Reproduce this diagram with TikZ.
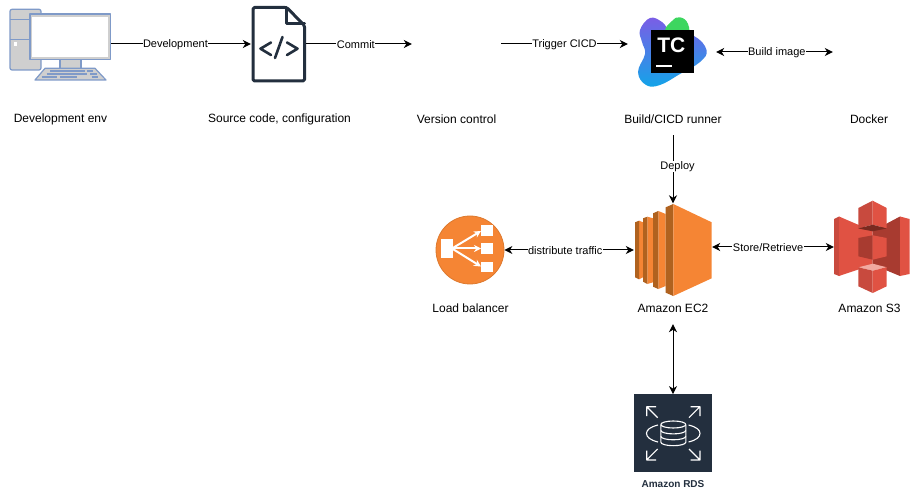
\documentclass[tikz,border=0pt]{standalone}
\usepackage{fontspec}
\setmainfont{Liberation Sans}
\usetikzlibrary{arrows.meta}
\definecolor{pcblue}{HTML}{7F9AC8}
\definecolor{pcgray}{HTML}{CFCFCF}
\definecolor{docnavy}{HTML}{232F3E}
\definecolor{awsorange}{HTML}{F58534}
\definecolor{awsbrown}{HTML}{B0621F}
\definecolor{s3light}{HTML}{E05243}
\definecolor{s3mid}{HTML}{C84A3E}
\definecolor{s3dark}{HTML}{A83B30}
\definecolor{s3band}{HTML}{7A2A20}
\definecolor{s3pink}{HTML}{F2A9A0}
\definecolor{tcblue}{HTML}{12A5E8}
\definecolor{tcpurple}{HTML}{7C5CE6}
\definecolor{tcgreen}{HTML}{3DD65F}

\begin{document}
\begin{tikzpicture}
                        [
                            x=1pt, y=-1pt,
                            icon/.style = {shape=rectangle, inner sep=0pt},
                            caption/.style = {shape=rectangle, inner sep=0pt, minimum height=32pt, yshift=-1pt, font=\fontsize{12}{14}\selectfont},
                            link/.style = {line width=1pt, -{Stealth[length=8pt,width=8pt,inset=2.5pt]}},
                            linkboth/.style = {line width=1pt, {Stealth[length=8pt,width=8pt,inset=2.5pt]}-{Stealth[length=8pt,width=8pt,inset=2.5pt]}},
                            flow/.style = {fill=white, inner sep=0.5pt, yshift=-1pt, font=\fontsize{11}{13}\selectfont},
                            pcline/.style = {draw=pcblue, line width=1.2pt, fill=pcgray, line join=round},
                            keyline/.style = {draw=pcblue, line width=1.2pt},
                            docline/.style = {draw=docnavy, line width=3pt, line join=round, line cap=round},
                            rdsline/.style = {draw=white, line width=1.1pt, line join=round},
                            lbarrow/.style = {white, line width=2pt, -{Stealth[length=7pt,width=7pt]}},
                        ]

                        \useasboundingbox (0,0) rectangle (915,494);

                        % icons
                        \node[icon, minimum width=101pt, minimum height=70pt] (pcicon) at (60.5,44) {};
                        \node[icon, minimum width=55pt, minimum height=76pt] (docicon) at (278.5,44) {};
                        \node[icon, minimum width=89pt, minimum height=70pt] (vcicon) at (456.5,44) {};
                        \node[icon, minimum width=88pt, minimum height=70pt] (tcicon) at (672,48) {};
                        \node[icon, minimum width=90pt, minimum height=60pt] (dockericon) at (878,52) {};
                        \node[icon, shape=circle, minimum size=68pt, fill=awsorange, draw=awsbrown!35!awsorange, line width=0.8pt] (lbicon) at (470,250) {};
                        \node[icon, minimum width=78pt, minimum height=93pt] (ec2icon) at (673,250) {};
                        \node[icon, minimum width=76pt, minimum height=93pt] (s3icon) at (872,247) {};
                        \node[icon, minimum width=78pt, minimum height=78pt, fill=docnavy] (rdsicon) at (673.3,433.3) {};

                        % captions
                        \node[caption] (pclabel) at (60.5,118) {Development env};
                        \node[caption] (doclabel) at (279.5,118) {Source code, configuration};
                        \node[caption] (vclabel) at (456.5,118) {Version control};
                        \node[caption] (tclabel) at (673,118) {Build/CICD runner};
                        \node[caption] (dockerlabel) at (869,118) {Docker};
                        \node[caption] (lblabel) at (470.5,307) {Load balancer};
                        \node[caption] (ec2label) at (673,307) {Amazon EC2};
                        \node[caption] (s3label) at (869.5,307) {Amazon S3};
                        \node[inner sep=0pt, font=\fontsize{10}{12}\selectfont\bfseries, text=docnavy] (rdslabel) at (673,484) {Amazon RDS};

                        % computer
                        \draw[pcline, rounded corners=2pt] (10,9.3) rectangle (41,70);
                        \draw[keyline] (10,19.3) -- (30,19.3) (10,39.3) -- (30,39.3);
                        \fill[white] (13.5,42.5) rectangle (17,46);
                        \draw[pcline] (60,59.3) rectangle (81,68.3);
                        \draw[pcline] (35,80) -- (106,80) -- (95,68.3) -- (45,68.3) -- cycle;
                        \draw[keyline] (50,71) -- (85,71) (87,71) -- (93,71) (46.7,74) -- (86.7,74) (90,74) -- (96.7,74);
                        \draw[keyline] (41.7,77) -- (56.7,77) (60,77) -- (77,77) (91.7,77) -- (98,77);
                        \draw[pcline] (30,14) rectangle (110.7,59.3);
                        \fill[white] (32.3,16.7) rectangle (108.3,56.7);

                        % source file
                        \draw[docline, rounded corners=1.5pt] (286.7,7.5) -- (253,7.5) -- (253,81) -- (304.5,81) -- (304.5,25.5) -- cycle;
                        \draw[docline] (286.7,7.5) -- (286.7,24) -- (304.5,24);
                        \draw[docline, line width=2.6pt] (271,42.5) -- (260.5,48.7) -- (271,55);
                        \draw[docline, line width=2.6pt] (282.5,37) -- (275,58);
                        \draw[docline, line width=2.6pt] (287,42.5) -- (297.5,48.7) -- (287,55);

                        % runner logo
                        \shade[top color=tcpurple, middle color=tcblue, bottom color=tcblue] plot[smooth cycle, tension=0.7] coordinates {(640,30) (650,18) (662,22) (672,32) (694,36) (706.5,50) (700,62) (680,74) (660,85) (646,85) (638,72) (645,54) (642,42)};
                        \fill[tcgreen] plot[smooth cycle, tension=0.8] coordinates {(665,31) (672,21) (680,17.3) (688,24) (687,36) (672,40)};
                        \fill[black] (651,30) rectangle (694,73);
                        \node[inner sep=0pt, text=white, font=\fontsize{21}{21}\selectfont\bfseries] (tcmark) at (671.3,45.5) {TC};
                        \fill[white] (656,65) rectangle (671.7,67);

                        % load balancer
                        \fill[white] (441,239) rectangle (453.3,257.7);
                        \fill[white] (481,225) rectangle (492.7,235.7);
                        \fill[white] (481,243.3) rectangle (492.7,254);
                        \fill[white] (481,261.7) rectangle (492.7,272.3);
                        \draw[lbarrow] (452,248.5) -- (481,231);
                        \draw[lbarrow] (452,248.5) -- (481,248.5);
                        \draw[lbarrow] (452,248.5) -- (481,266.5);

                        % ec2
                        \fill[awsorange] (639,220.7) -- (643,222.3) -- (643,277.3) -- (639,279.3) -- cycle;
                        \fill[awsbrown] (635,222.3) -- (639,220.7) -- (639,279.3) -- (635,277.3) -- cycle;
                        \fill[awsorange] (647.3,216.7) -- (653,218.3) -- (653,282.3) -- (647.3,284) -- cycle;
                        \fill[awsbrown] (643,218.3) -- (647.3,216.7) -- (647.3,284) -- (643,281.7) -- cycle;
                        \fill[awsorange] (658.3,211) -- (665.7,214) -- (665.7,286) -- (658.3,289) -- cycle;
                        \fill[awsbrown] (653,213.3) -- (658.3,211) -- (658.3,289) -- (653,286.7) -- cycle;
                        \fill[awsbrown] (665.7,207.3) -- (673.3,204) -- (673.3,296) -- (665.7,292.7) -- cycle;
                        \fill[awsorange] (673.3,204) -- (711.7,222.3) -- (711.7,278.3) -- (673.3,296) -- cycle;

                        % s3
                        \fill[s3mid] (834,219) -- (839,216.5) -- (839,276) -- (834,274) -- cycle;
                        \fill[s3light] (839,216.5) -- (872.7,231) -- (872.7,264.7) -- (839,276) -- cycle;
                        \fill[s3dark] (872.7,231) -- (900,216.5) -- (900,276) -- (872.7,264.7) -- cycle;
                        \fill[s3light] (900,216.5) -- (909.5,219) -- (909.5,274) -- (900,276) -- cycle;
                        \fill[s3mid] (858.3,208) -- (872.7,200.7) -- (872.7,224.7) -- (858.3,228.5) -- cycle;
                        \fill[s3light] (872.7,200.7) -- (886.7,208) -- (886.7,228.5) -- (872.7,224.7) -- cycle;
                        \fill[s3band] (858.3,228.5) -- (872.7,224.7) -- (886.7,228.5) -- (872.7,231.3) -- cycle;
                        \fill[s3dark] (858.3,238) -- (872.7,235.3) -- (872.7,259.7) -- (858.3,256.3) -- cycle;
                        \fill[s3light] (872.7,235.3) -- (886.7,238) -- (886.7,256.3) -- (872.7,259.7) -- cycle;
                        \fill[s3pink] (858.3,267.3) -- (872.7,263.7) -- (886.7,267.3) -- (872.7,270.7) -- cycle;
                        \fill[s3mid] (858.3,267.3) -- (872.7,270.7) -- (872.7,293) -- (858.3,286.3) -- cycle;
                        \fill[s3light] (872.7,270.7) -- (886.7,267.3) -- (886.7,286.3) -- (872.7,293) -- cycle;

                        % rds
                        \draw[rdsline] (660.8,424.5) arc[start angle=180, end angle=360, x radius=12.5, y radius=3.5];
                        \draw[rdsline] (660.8,424.5) arc[start angle=180, end angle=0, x radius=12.5, y radius=3.5];
                        \draw[rdsline] (660.8,424.5) -- (660.8,442.2) arc[start angle=180, end angle=0, x radius=12.5, y radius=3.5] -- (685.8,424.5);
                        \draw[rdsline] (660.8,430.4) arc[start angle=180, end angle=0, x radius=12.5, y radius=3.5];
                        \draw[rdsline] (660.8,436.3) arc[start angle=180, end angle=0, x radius=12.5, y radius=3.5];
                        \draw[rdsline] (658,425) .. controls (650,427) and (646.5,430) .. (646.5,433.3) .. controls (646.5,437) and (650,440) .. (658,442);
                        \draw[rdsline] (688.6,425) .. controls (696.6,427) and (700,430) .. (700,433.3) .. controls (700,437) and (696.6,440) .. (688.6,442);
                        \draw[rdsline] (657.7,417.7) -- (646.7,406.7) (646.7,416) -- (646.7,406.7) -- (656,406.7);
                        \draw[rdsline] (689,417.7) -- (700,406.7) (690.7,406.7) -- (700,406.7) -- (700,416);
                        \draw[rdsline] (657.7,449) -- (646.7,460) (646.7,450.7) -- (646.7,460) -- (656,460);
                        \draw[rdsline] (689,449) -- (700,460) (690.7,460) -- (700,460) -- (700,450.7);

                        % connectors
                        \draw[link] (pcicon.east) -- node[flow, pos=0.46] (devflow) {Development} (docicon.west);
                        \draw[link] (docicon.east) -- node[flow, pos=0.47] (commitflow) {Commit} (vcicon.west);
                        \draw[link] (vcicon.east) -- node[flow, pos=0.5] (triggerflow) {Trigger CICD} (tcicon.west |- vcicon.east);
                        \draw[linkboth] (tcicon.east |- dockericon.west) -- node[flow, pos=0.52] (buildflow) {Build image} (dockericon.west);
                        \draw[link] (tclabel.south) -- node[flow, pos=0.44, xshift=4.5pt] (deployflow) {Deploy} (ec2icon.north);
                        \draw[linkboth] (lbicon.east) -- node[flow, pos=0.47] (trafficflow) {distribute traffic} (ec2icon.west);
                        \draw[linkboth] (ec2icon.east |- s3icon.west) -- node[flow, pos=0.46] (storeflow) {Store/Retrieve} (s3icon.west);
                        \draw[linkboth] (ec2label.south) -- (ec2label.south |- rdsicon.north);
                    \end{tikzpicture}
\end{document}
